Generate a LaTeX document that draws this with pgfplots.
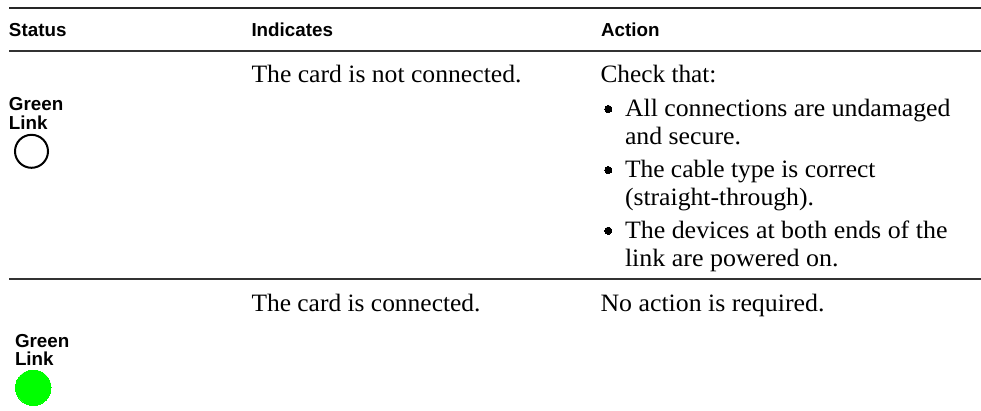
\documentclass[border=0pt]{standalone}
\usepackage{graphicx}
\usepackage{pgfplots}
\pgfplotsset{compat=1.18}
\usepackage{fontspec}
\setmainfont{Liberation Serif}
\newfontfamily\hd[Scale=1.0]{Liberation Sans}
\newcommand{\Hd}[1]{{\fontsize{18.8}{19}\selectfont\hd\bfseries #1}}
\newcommand{\Bd}[2]{\resizebox{#1pt}{\height}{\fontsize{25}{28}\selectfont #2}}
\tikzset{txt/.style={anchor=base west,inner sep=0pt,outer sep=0pt,text=black}}
\begin{document}
\begin{tikzpicture}[x=1pt,y=1pt]
\path[use as bounding box] (0,0) rectangle (981,410);
\begin{axis}[at={(0,0)},anchor=south west,scale only axis,width=981pt,height=410pt,
  xmin=0,xmax=981,ymin=0,ymax=410,y dir=reverse,hide axis,clip=false]
% rules
\addplot[draw=black!85,line width=1.6pt,forget plot] coordinates {(9,8) (981,8)};
\addplot[draw=black!80,line width=1.4pt,forget plot] coordinates {(9,51) (981,51)};
\addplot[draw=black!80,line width=1.4pt,forget plot] coordinates {(9,279) (981,279)};
% status lamps
\addplot[only marks,mark=*,mark size=16.5pt,mark options={draw=black,fill=white,line width=2pt},forget plot] coordinates {(31.5,151.3)};
\addplot[only marks,color=green,mark=*,mark size=17.7pt,mark options={draw=green,fill=green,line width=0pt},forget plot] coordinates {(33.3,387.7)};
% bullets
\addplot[only marks,mark=*,mark size=3.6pt,mark options={draw=black,fill=black,line width=0pt},forget plot] coordinates {(608.3,109) (608.3,170) (608.3,230.7)};
% header
\node[txt] at (axis cs:9,36) {\Hd{Status}};
\node[txt] at (axis cs:251.5,36) {\Hd{Indicates}};
\node[txt] at (axis cs:601,36) {\Hd{Action}};
% lamps labels
\node[txt] at (axis cs:9,110) {\Hd{Green}};
\node[txt] at (axis cs:9,129) {\Hd{Link}};
\node[txt] at (axis cs:15,347) {\Hd{Green}};
\node[txt] at (axis cs:15,365) {\Hd{Link}};
% body
\node[txt] at (axis cs:251.5,82) {\Bd{270}{The card is not connected.}};
\node[txt] at (axis cs:600.5,82) {\Bd{116}{Check that:}};
\node[txt] at (axis cs:625,116) {\Bd{325.5}{All connections are undamaged}};
\node[txt] at (axis cs:625,144) {\Bd{116}{and secure.}};
\node[txt] at (axis cs:625,177) {\Bd{250.5}{The cable type is correct}};
\node[txt] at (axis cs:625,205) {\Bd{189}{(straight-through).}};
\node[txt] at (axis cs:625,238) {\Bd{322.5}{The devices at both ends of the}};
\node[txt] at (axis cs:625,266) {\Bd{213.5}{link are powered on.}};
\node[txt] at (axis cs:251.5,311) {\Bd{229}{The card is connected.}};
\node[txt] at (axis cs:600.5,311) {\Bd{224}{No action is required.}};
\end{axis}
\end{tikzpicture}
\end{document}
